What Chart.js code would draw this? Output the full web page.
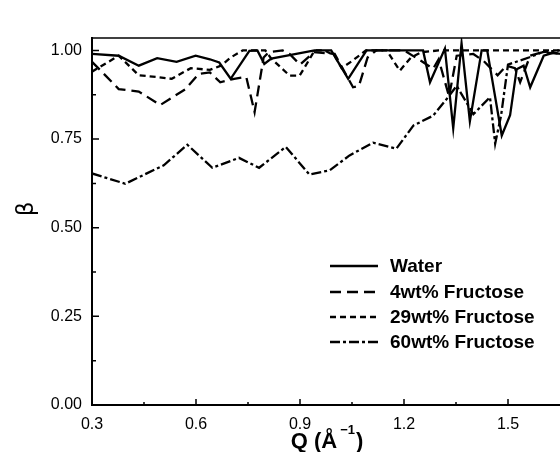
<!DOCTYPE html>
<html>
<head>
<meta charset="utf-8">
<script src="https://cdn.jsdelivr.net/npm/chart.js@4/dist/chart.umd.min.js"></script>
<style>
  html, body { margin: 0; padding: 0; background: #fff; }
  canvas { display: block; }
</style>
</head>
<body>
<canvas id="betaChart" width="560" height="452"></canvas>
<script>
// Q values (1/Angstrom) and beta, one pair of arrays per sample
const qWater = [0.30, 0.377, 0.435, 0.488, 0.544, 0.599, 0.64, 0.667, 0.70, 0.754, 0.777, 0.797, 0.817, 0.889, 0.942, 0.99,
  1.039, 1.092, 1.255, 1.275, 1.318, 1.342, 1.366, 1.39, 1.424, 1.44, 1.482, 1.506, 1.525, 1.545, 1.564, 1.603, 1.632, 1.65];
const betaWater = [0.99, 0.985, 0.957, 0.978, 0.968, 0.985, 0.975, 0.966, 0.92, 0.999, 1.0, 0.962, 0.977, 0.99, 1.0, 1.0,
  0.92, 1.0, 1.0, 0.91, 1.005, 0.78, 1.02, 0.80, 1.0, 1.0, 0.76, 0.817, 0.947, 0.957, 0.896, 0.985, 0.994, 0.99];

const q4wt = [0.30, 0.377, 0.435, 0.497, 0.57, 0.608, 0.64, 0.67, 0.71, 0.745, 0.769, 0.795, 0.81, 0.85, 0.87, 0.90, 0.94,
  1.0, 1.053, 1.07, 1.095, 1.12, 1.20, 1.25, 1.284, 1.30, 1.33, 1.352, 1.40, 1.43, 1.47, 1.496, 1.52, 1.535, 1.564, 1.60, 1.65];
const beta4wt = [0.968, 0.891, 0.884, 0.846, 0.891, 0.934, 0.938, 0.91, 0.92, 0.925, 0.826, 0.98, 0.995, 1.0, 0.99, 0.96, 0.995,
  0.99, 0.896, 0.90, 0.98, 1.0, 1.0, 0.97, 0.948, 0.975, 0.87, 0.985, 0.99, 0.97, 0.93, 0.957, 0.95, 0.91, 0.985, 0.995, 0.99];

const q29wt = [0.30, 0.377, 0.435, 0.488, 0.53, 0.585, 0.64, 0.672, 0.70, 0.735, 0.80, 0.817, 0.87, 0.899, 0.928, 0.942,
  0.97, 1.0, 1.02, 1.05, 1.09, 1.15, 1.188, 1.22, 1.25, 1.30, 1.40, 1.50, 1.60, 1.65];
const beta29wt = [0.94, 0.985, 0.93, 0.925, 0.92, 0.95, 0.945, 0.957, 0.98, 1.0, 1.0, 0.977, 0.929, 0.929, 0.976, 1.0,
  1.0, 0.985, 0.95, 0.97, 1.0, 1.0, 0.943, 0.98, 0.995, 1.0, 1.0, 1.0, 1.0, 1.0];

const q60wt = [0.30, 0.396, 0.507, 0.575, 0.647, 0.724, 0.782, 0.859, 0.927, 0.986, 1.043, 1.111, 1.178, 1.227, 1.284,
  1.323, 1.352, 1.40, 1.448, 1.463, 1.48, 1.50, 1.53, 1.56, 1.60, 1.65];
const beta60wt = [0.653, 0.624, 0.676, 0.734, 0.669, 0.697, 0.669, 0.728, 0.650, 0.662, 0.704, 0.740, 0.723, 0.788, 0.816,
  0.863, 0.90, 0.82, 0.868, 0.737, 0.816, 0.96, 0.97, 0.98, 0.995, 1.0];

const seriesNames = ["Water", "4wt% Fructose", "29wt% Fructose", "60wt% Fructose"];
const xTicks = [0.3, 0.6, 0.9, 1.2, 1.5];
const yTicks = [0, 0.25, 0.5, 0.75, 1.0];

const FONT = "'Liberation Sans', Arial, Helvetica, sans-serif";
Chart.defaults.font.family = FONT;
Chart.defaults.color = "#000";

function pts(qs, bs) {
  return qs.map((q, i) => ({ x: q, y: bs[i] }));
}

const dashes = [[], [11, 6], [6, 4], [10, 3, 3, 3]];
const allData = [pts(qWater, betaWater), pts(q4wt, beta4wt), pts(q29wt, beta29wt), pts(q60wt, beta60wt)];

// frame, inward ticks, legend and axis titles
const decorations = {
  id: "decorations",
  afterDraw(chart) {
    const ctx = chart.ctx;
    const area = chart.chartArea;
    const xs = chart.scales.x;
    const ys = chart.scales.y;
    ctx.save();
    ctx.strokeStyle = "#000";
    ctx.lineWidth = 1.5;
    ctx.setLineDash([]);

    // top frame line
    ctx.beginPath();
    ctx.moveTo(area.left, area.top);
    ctx.lineTo(area.right, area.top);
    ctx.stroke();

    // x ticks (major + minor), pointing into the plot
    ctx.beginPath();
    xTicks.forEach(v => {
      const px = xs.getPixelForValue(v);
      ctx.moveTo(px, area.bottom); ctx.lineTo(px, area.bottom - 6);
      const mid = xs.getPixelForValue(v + 0.15);
      if (v + 0.15 < xs.max) { ctx.moveTo(mid, area.bottom); ctx.lineTo(mid, area.bottom - 3); }
    });
    // y ticks
    yTicks.forEach(v => {
      const py = ys.getPixelForValue(v);
      ctx.moveTo(area.left, py); ctx.lineTo(area.left + 7, py);
      if (v + 0.125 < ys.max) {
        const mid = ys.getPixelForValue(v + 0.125);
        ctx.moveTo(area.left, mid); ctx.lineTo(area.left + 4, mid);
      }
    });
    ctx.stroke();

    // legend inside the plot
    const rows = [266, 292, 317, 342];
    ctx.font = "bold 19px " + FONT;
    ctx.fillStyle = "#000";
    ctx.textBaseline = "middle";
    chart.data.datasets.forEach((ds, i) => {
      ctx.lineWidth = 2.3;
      ctx.setLineDash(ds.borderDash || []);
      ctx.beginPath();
      ctx.moveTo(330, rows[i]);
      ctx.lineTo(378, rows[i]);
      ctx.stroke();
      ctx.setLineDash([]);
      ctx.fillText(ds.label, 390, rows[i] + 1);
    });

    // y title (beta), rotated
    ctx.save();
    ctx.translate(27, 209);
    ctx.rotate(-Math.PI / 2);
    ctx.font = "23px 'DejaVu Sans', " + FONT;
    ctx.textAlign = "center";
    ctx.textBaseline = "middle";
    ctx.fillText("β", 0, 0);
    ctx.restore();

    // x title with superscript
    const big = "bold 22px " + FONT;
    const small = "bold 13px " + FONT;
    ctx.textBaseline = "alphabetic";
    ctx.textAlign = "left";
    ctx.font = big;
    const w1 = ctx.measureText("Q (Å").width;
    const w3 = ctx.measureText(")").width;
    ctx.font = small;
    const w2 = ctx.measureText("−1").width + 4;
    let x0 = 327 - (w1 + w2 + w3) / 2;
    const base = 448;
    ctx.font = big;
    ctx.fillText("Q (Å", x0, base);
    ctx.font = small;
    ctx.fillText("−1", x0 + w1 + 3, base - 14);
    ctx.font = big;
    ctx.fillText(")", x0 + w1 + w2, base);
    ctx.restore();
  }
};

new Chart(document.getElementById("betaChart").getContext("2d"), {
  type: "line",
  data: {
    datasets: allData.map((d, i) => ({
      label: seriesNames[i],
      data: d,
      borderColor: "#000",
      borderWidth: 2.3,
      borderDash: dashes[i],
      pointRadius: 0,
      tension: 0,
      fill: false
    }))
  },
  options: {
    responsive: false,
    devicePixelRatio: 1,
    animation: false,
    layout: { padding: { top: 38, right: 0, left: 0, bottom: 0 } },
    plugins: { legend: { display: false }, tooltip: { enabled: false } },
    scales: {
      x: {
        type: "linear",
        min: 0.3,
        max: 1.65,
        afterBuildTicks: s => { s.ticks = xTicks.map(v => ({ value: v })); },
        afterFit: s => { s.height = 47; },
        grid: { display: false, drawTicks: false },
        border: { display: true, color: "#000", width: 2 },
        ticks: {
          callback: v => v.toFixed(1),
          font: { size: 16 },
          color: "#000",
          padding: 10,
          maxRotation: 0,
          autoSkip: false
        }
      },
      y: {
        type: "linear",
        min: 0,
        max: 1.035,
        afterBuildTicks: s => { s.ticks = yTicks.map(v => ({ value: v })); },
        afterFit: s => { s.width = 92; },
        grid: { display: false, drawTicks: false },
        border: { display: true, color: "#000", width: 2 },
        ticks: {
          callback: v => v.toFixed(2),
          font: { size: 16 },
          color: "#000",
          padding: 10,
          autoSkip: false
        }
      }
    }
  },
  plugins: [decorations]
});
</script>
</body>
</html>
